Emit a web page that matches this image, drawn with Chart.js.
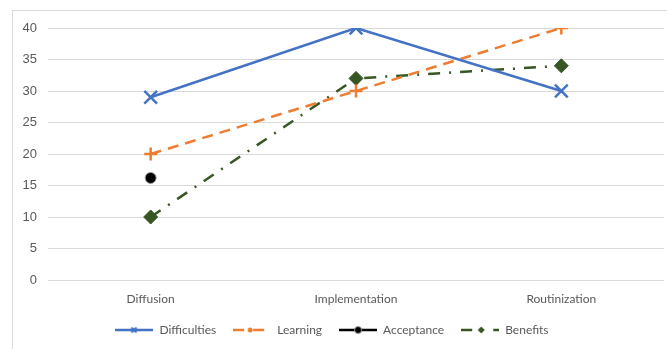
<!DOCTYPE html>
<html>
<head>
<meta charset="utf-8">
<script src="https://cdn.jsdelivr.net/npm/chart.js@4"></script>
<style>
  html, body { margin: 0; padding: 0; background: #fff; }
  #wrap { width: 667px; height: 349px; }
</style>
</head>
<body>
<div id="wrap"><canvas id="c" width="667" height="349"></canvas></div>
<script>
// Stages of adoption on the x axis
const stages = ['Diffusion', 'Implementation', 'Routinization'];

// Series values
const difficulties = [29, 40, 30];
const learning = [20, 30, 40];
const acceptance = [16.2, null, null];
const benefits = [10, 32, 34];

// Value axis
const yMin = 0;
const yMax = 40;
const yStep = 5;

const COL_BLUE = '#4472C4';
const COL_ORANGE = '#ED7D31';
const COL_BLACK = '#000000';
const COL_GREEN = '#375623';
const COL_TEXT = '#595959';
const COL_GRID = '#d9d9d9';

// Small legend swatches: a piece of the series line with its marker
function swatch(draw) {
  const c = document.createElement('canvas');
  c.width = 38; c.height = 12;
  const g = c.getContext('2d');
  draw(g);
  return c;
}
function seg(g, color, x0, x1, w) {
  g.strokeStyle = color; g.lineWidth = w || 2.5;
  g.beginPath(); g.moveTo(x0, 6); g.lineTo(x1, 6); g.stroke();
}
const legendSwatches = [
  swatch(g => {
    seg(g, COL_BLUE, 0, 38);
    g.lineWidth = 2; g.beginPath();
    g.moveTo(16, 3.5); g.lineTo(21, 8.5); g.moveTo(21, 3.5); g.lineTo(16, 8.5); g.stroke();
  }),
  swatch(g => {
    seg(g, COL_ORANGE, 0, 11);
    seg(g, COL_ORANGE, 20, 31);
    g.fillStyle = COL_ORANGE; g.beginPath(); g.arc(17, 6, 2.5, 0, Math.PI * 2); g.fill();
  }),
  swatch(g => {
    seg(g, COL_BLACK, 0, 38);
    g.fillStyle = COL_BLACK; g.strokeStyle = '#9a9a9a'; g.lineWidth = 1;
    g.beginPath(); g.arc(19, 6, 3.5, 0, Math.PI * 2); g.fill(); g.stroke();
  }),
  swatch(g => {
    seg(g, COL_GREEN, 0, 11);
    seg(g, COL_GREEN, 32, 38);
    g.fillStyle = COL_GREEN; g.beginPath();
    g.moveTo(20, 2.5); g.lineTo(23.5, 6); g.lineTo(20, 9.5); g.lineTo(16.5, 6); g.closePath(); g.fill();
  })
];

// White page with the light chart frame
const framePlugin = {
  id: 'frame',
  beforeDraw(chart) {
    const ctx = chart.ctx;
    ctx.save();
    ctx.fillStyle = '#ffffff';
    ctx.fillRect(0, 0, chart.width, chart.height);
    ctx.strokeStyle = COL_GRID;
    ctx.lineWidth = 1;
    ctx.strokeRect(12.5, 10.5, 1000, 1000);
    ctx.restore();
  }
};

new Chart(document.getElementById('c'), {
  type: 'line',
  data: {
    labels: stages,
    datasets: [
      {
        label: 'Difficulties',
        data: difficulties,
        borderColor: COL_BLUE,
        backgroundColor: COL_BLUE,
        borderWidth: 2.5,
        pointStyle: 'crossRot',
        pointRadius: 9,
        pointBorderWidth: 2.5,
        pointBorderColor: COL_BLUE
      },
      {
        label: 'Learning',
        data: learning,
        borderColor: COL_ORANGE,
        backgroundColor: COL_ORANGE,
        borderWidth: 2.5,
        borderDash: [11, 7],
        pointStyle: 'cross',
        pointRadius: 6.5,
        pointBorderWidth: 2.5,
        pointBorderColor: COL_ORANGE
      },
      {
        label: 'Acceptance',
        data: acceptance,
        borderColor: COL_BLACK,
        backgroundColor: COL_BLACK,
        borderWidth: 2.5,
        pointStyle: 'circle',
        pointRadius: 5.5,
        pointBorderWidth: 1,
        pointBorderColor: '#9a9a9a',
        pointBackgroundColor: COL_BLACK
      },
      {
        label: 'Benefits',
        data: benefits,
        borderColor: COL_GREEN,
        backgroundColor: COL_GREEN,
        borderWidth: 2.5,
        borderDash: [12, 9, 2, 9],
        pointStyle: 'rectRot',
        pointRadius: 7,
        pointBorderWidth: 1,
        pointBorderColor: COL_GREEN,
        pointBackgroundColor: COL_GREEN
      }
    ]
  },
  options: {
    responsive: false,
    animation: false,
    layout: { autoPadding: false, padding: { top: 28, right: 3, left: 0, bottom: 3 } },
    scales: {
      x: {
        offset: true,
        grid: { display: false, drawTicks: false },
        border: { display: false },
        ticks: {
          color: COL_TEXT,
          font: { family: 'Lato', size: 12 },
          padding: 12,
          maxRotation: 0,
          autoSkip: false
        },
        afterFit(s) {
          s.height = 27;
          s.paddingLeft = 0;
          s.paddingRight = 0;
        }
      },
      y: {
        min: yMin,
        max: yMax,
        grid: { color: COL_GRID, lineWidth: 1, drawTicks: false },
        border: { display: false },
        ticks: {
          stepSize: yStep,
          color: COL_TEXT,
          font: { family: 'Liberation Sans', size: 13 },
          padding: 11
        },
        afterFit(s) { s.width = 48; }
      }
    },
    plugins: {
      tooltip: { enabled: false },
      legend: {
        position: 'bottom',
        labels: {
          color: COL_TEXT,
          font: { family: 'Lato', size: 12 },
          usePointStyle: true,
          pointStyleWidth: 38,
          padding: 17,
          generateLabels(chart) {
            const items = Chart.defaults.plugins.legend.labels.generateLabels(chart);
            items.forEach((it, i) => { it.pointStyle = legendSwatches[i]; });
            return items;
          }
        }
      }
    }
  },
  plugins: [framePlugin]
});
</script>
</body>
</html>
